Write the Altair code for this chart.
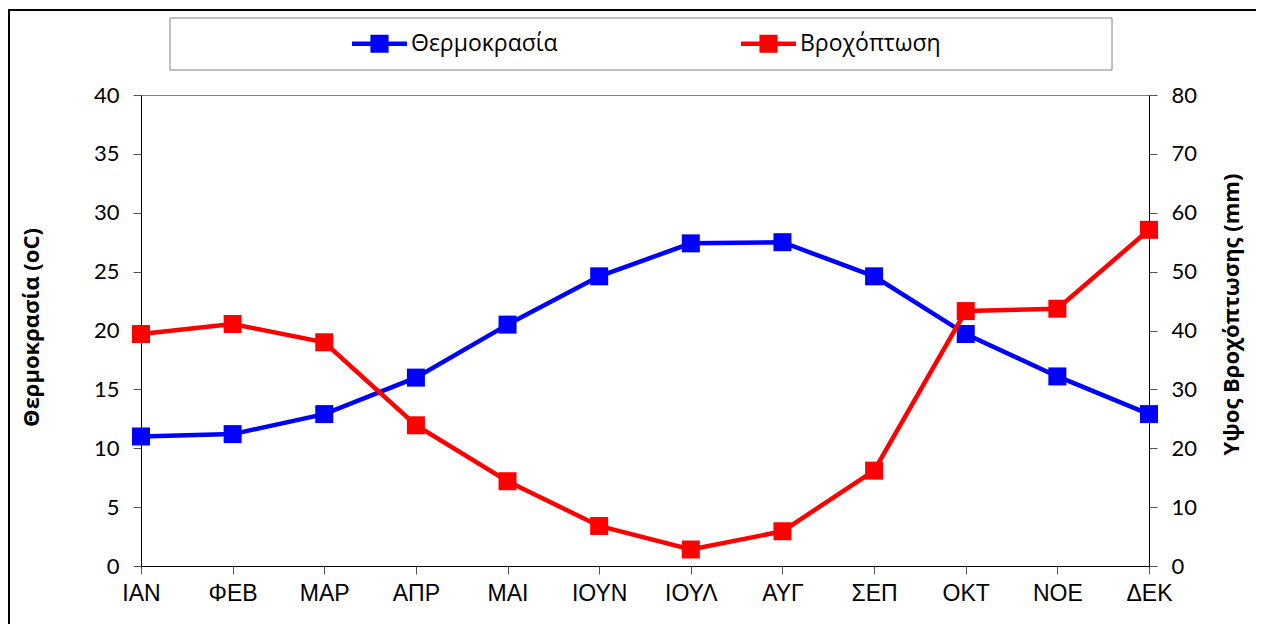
import altair as alt
import pandas as pd

months = ["ΙΑΝ", "ΦΕΒ", "ΜΑΡ", "ΑΠΡ", "ΜΑΙ", "ΙΟΥΝ", "ΙΟΥΛ", "ΑΥΓ", "ΣΕΠ", "ΟΚΤ", "ΝΟΕ", "ΔΕΚ"]
temperature = [11.0, 11.2, 12.9, 16.0, 20.5, 24.6, 27.4, 27.5, 24.6, 19.7, 16.1, 12.9]
rainfall = [39.4, 41.1, 38.0, 23.9, 14.4, 6.8, 2.8, 5.9, 16.2, 43.3, 43.7, 57.1]
series_names = ["Θερμοκρασία", "Βροχόπτωση"]
series_colors = ["#0000FF", "#FF0000"]
temp_ticks = [0, 5, 10, 15, 20, 25, 30, 35, 40]
rain_ticks = [0, 10, 20, 30, 40, 50, 60, 70, 80]

df = pd.DataFrame({"month": months, "temp": temperature, "rain": rainfall})

W, H = 1008, 471
NUM_FONT = "Lato"
TXT_FONT = "Open Sans"

x_enc = alt.X(
    "month:N", sort=months, scale=alt.Scale(type="point", padding=0),
    axis=alt.Axis(title=None, labelAngle=0, labelFont="Liberation Sans", labelFontSize=23,
                  labelColor="black", labelPadding=8, tickSize=8, tickColor="#555555",
                  domainColor="black", ticks=True, grid=False),
)

color_scale = alt.Scale(domain=series_names, range=series_colors)
legend_symbol = "M-1,-0.08H1V0.08H-1Z M-0.33,-0.33H0.33V0.33H-0.33Z"
legend = alt.Legend(
    title=None, orient="none", direction="horizontal", legendX=211, legendY=-79,
    symbolType=legend_symbol, symbolSize=3025, symbolStrokeWidth=0,
    labelFont=TXT_FONT, labelFontSize=23, labelColor="black", labelOffset=4,
    columnPadding=183, padding=0, strokeColor="transparent", labelLimit=400,
)
color_enc = alt.Color("series:N", scale=color_scale, legend=legend)

temp_y = alt.Y(
    "temp:Q", scale=alt.Scale(domain=[0, 40], nice=False, zero=True),
    axis=alt.Axis(orient="left", values=temp_ticks, title="Θερμοκρασία (oC)",
                  titleFont=TXT_FONT, titleFontSize=22, titleFontWeight="bold", titleColor="black",
                  titleAngle=270, titleX=-110, titleY=232, titleBaseline="middle", titleAlign="center",
                  labelFont=NUM_FONT, labelFontSize=22, labelColor="black", labelPadding=14,
                  tickSize=8, tickColor="#555555", domainColor="black", grid=False),
)
rain_y = alt.Y(
    "rain:Q", scale=alt.Scale(domain=[0, 80], nice=False, zero=True),
    axis=alt.Axis(orient="right", values=rain_ticks, title="Υψος Βροχόπτωσης (mm)",
                  titleFont=TXT_FONT, titleFontSize=22, titleFontWeight="bold", titleColor="black",
                  titleAngle=270, titleX=82, titleY=219, titleBaseline="middle", titleAlign="center",
                  labelFont=NUM_FONT, labelFontSize=22, labelColor="black", labelPadding=14,
                  tickSize=8, tickColor="#555555", domainColor="black", grid=False),
)

base = alt.Chart(df)

temp_line = base.mark_line(strokeWidth=4.5, color=series_colors[0]).encode(x=x_enc, y=temp_y)
temp_sq = base.transform_calculate(series=f"'{series_names[0]}'").mark_square(
    size=324, filled=True, opacity=1
).encode(x=x_enc, y=temp_y, color=color_enc)
rain_line = base.mark_line(strokeWidth=4.5, color=series_colors[1]).encode(x=x_enc, y=rain_y)
rain_sq = base.transform_calculate(series=f"'{series_names[1]}'").mark_square(
    size=324, filled=True, opacity=1
).encode(x=x_enc, y=rain_y, color=color_enc)

deco = pd.DataFrame({"k": [0]})
frame = alt.Chart(deco).mark_rect(fillOpacity=0, stroke="black", strokeWidth=2).encode(
    x=alt.value(-132), x2=alt.value(1300), y=alt.value(-85), y2=alt.value(700)
)
legend_box = alt.Chart(deco).mark_rect(fillOpacity=0, stroke="#808080", strokeWidth=1).encode(
    x=alt.value(29), x2=alt.value(971), y=alt.value(-77), y2=alt.value(-25)
)

chart = alt.layer(
    frame, legend_box,
    alt.layer(temp_line, temp_sq),
    alt.layer(rain_line, rain_sq),
).resolve_scale(y="independent").properties(
    width=W, height=H,
    autosize=alt.AutoSizeParams(type="none"),
    padding={"left": 133, "top": 87, "right": 107, "bottom": 58},
    background="white",
).configure_view(stroke="#808080", strokeWidth=1)

chart.save("out.html", embed_options={"renderer": "svg", "actions": False})
